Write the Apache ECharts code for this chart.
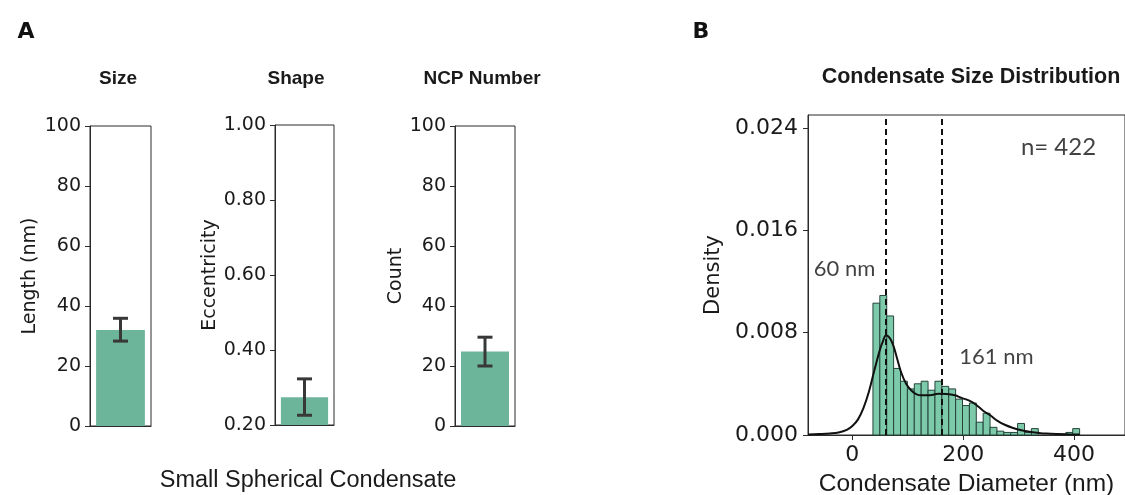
<!DOCTYPE html>
<html>
<head>
<meta charset="utf-8">
<script src="https://cdn.jsdelivr.net/npm/echarts@6/dist/echarts.min.js"></script>
<style>
  html, body { margin: 0; padding: 0; background: #fff; }
  #chart { width: 1125px; height: 495px; }
</style>
</head>
<body>
<div id="chart"></div>
<script>
// panel A: three single-bar summaries
const panelTitles = ["Size", "Shape", "NCP Number"];
const yNames = ["Length (nm)", "Eccentricity", "Count"];
const category = ["Small Spherical Condensate"];
const means = [32, 0.274, 24.8];
const errLow = [28.3, 0.226, 20.0];
const errHigh = [35.9, 0.323, 29.6];
const yMins = [0, 0.2, 0];
const yMaxs = [100, 1.0, 100];
const yIntervals = [20, 0.2, 20];
const yDecimals = [0, 2, 0];

// panel B: histogram (density) of condensate diameters
const binStart = 37.2;
const binWidth = 12.43;
const binDensity = [
  0.0103, 0.0109, 0.0093, 0.0052, 0.0042, 0.0036, 0.0040, 0.0042, 0.0035, 0.0042,
  0.0038, 0.0036, 0.0028, 0.0023, 0.0025, 0.0010, 0.0017, 0.0006, 0.0003, 0.0002,
  0.0002, 0.0009, 0.0002, 0.0005, 0, 0, 0, 0, 0.0002, 0.0005
];
const kdeX = [-80, -60, -40, -25, -10, 0, 10, 20, 30, 40, 50, 55, 61, 67, 73, 80, 88, 97, 106, 115,
  125, 140, 155, 170, 185, 197, 210, 222, 236, 250, 262, 275, 290, 305, 320, 335, 350, 370, 390, 410];
const kdeY = [0.00004, 0.00007, 0.00012, 0.0002, 0.0004, 0.0007, 0.0012, 0.0021, 0.0034, 0.0051,
  0.0067, 0.0073, 0.0078, 0.0076, 0.0071, 0.0061, 0.0049, 0.0040, 0.0035, 0.0032,
  0.0031, 0.0031, 0.00322, 0.0032, 0.0031, 0.0029, 0.0027, 0.0024, 0.0019, 0.0015,
  0.0011, 0.0008, 0.00055, 0.00037, 0.00025, 0.00017, 0.00011, 0.00007, 0.00005, 0.00004];
const modeLines = [60, 161];
const bTicksX = [0, 200, 400];
const bTicksY = [0, 0.008, 0.016, 0.024];
const notes = [
  { x: -14, y: 0.0130, text: "60 nm", size: 22 },
  { x: 260, y: 0.0061, text: "161 nm", size: 22 },
  { x: 372, y: 0.02246, text: "n= 422", size: 24 }
];

const ink = "#1a1a1a";
const spine = "#2b2b2b";
const tickFont = "DejaVu Sans";

const chart = echarts.init(document.getElementById("chart"));

const aGrids = [
  { left: 90, top: 126, width: 61, height: 300 },
  { left: 275, top: 125, width: 59, height: 300 },
  { left: 455, top: 126, width: 60, height: 300 }
];
const nameGaps = [50, 54, 48];

const grid = aGrids.map((g) => ({
  ...g, show: true, borderColor: spine, borderWidth: 1, backgroundColor: "transparent",
  containLabel: false, outerBoundsMode: "none"
}));
grid.push({
  left: 808, top: 115, right: 0, height: 320, show: true, borderColor: spine, borderWidth: 1,
  containLabel: false, outerBoundsMode: "none"
});

const xAxis = aGrids.map((g, i) => ({
  type: "category",
  gridIndex: i,
  data: category,
  axisLine: { lineStyle: { color: spine, width: 1 } },
  axisTick: { alignWithLabel: true, length: 5, lineStyle: { color: spine } },
  axisLabel: { show: false }
}));
xAxis.push({
  type: "value",
  gridIndex: 3,
  min: -80,
  max: 492,
  splitLine: { show: false },
  axisLine: { onZero: false, lineStyle: { color: spine, width: 1 } },
  axisTick: { customValues: bTicksX, length: 5, lineStyle: { color: spine } },
  axisLabel: { customValues: bTicksX, color: ink, fontFamily: tickFont, fontSize: 22, margin: 9 },
  name: "Condensate Diameter (nm)",
  nameLocation: "middle",
  nameGap: 37,
  nameTextStyle: { color: ink, fontFamily: "Liberation Sans", fontSize: 24.5 }
});

const yAxis = aGrids.map((g, i) => ({
  type: "value",
  gridIndex: i,
  min: yMins[i],
  max: yMaxs[i],
  interval: yIntervals[i],
  splitLine: { show: false },
  axisLine: { show: true, onZero: false, lineStyle: { color: spine, width: 1 } },
  axisTick: { show: true, length: 5, lineStyle: { color: spine } },
  axisLabel: {
    color: ink, fontFamily: tickFont, fontSize: 19, margin: 9,
    formatter: (v) => v.toFixed(yDecimals[i])
  },
  name: yNames[i],
  nameLocation: "middle",
  nameGap: nameGaps[i],
  nameTextStyle: { color: ink, fontFamily: tickFont, fontSize: 19 }
}));
yAxis.push({
  type: "value",
  gridIndex: 3,
  min: 0,
  max: 0.025,
  splitLine: { show: false },
  axisLine: { show: true, onZero: false, lineStyle: { color: spine, width: 1 } },
  axisTick: { show: true, customValues: bTicksY, length: 5, lineStyle: { color: spine } },
  axisLabel: {
    customValues: bTicksY, color: ink, fontFamily: tickFont, fontSize: 22, margin: 10,
    formatter: (v) => v.toFixed(3)
  },
  name: "Density",
  nameLocation: "middle",
  nameGap: 84,
  nameTextStyle: { color: ink, fontFamily: tickFont, fontSize: 21 }
});

const series = [];
aGrids.forEach((g, i) => {
  series.push({
    type: "bar",
    xAxisIndex: i,
    yAxisIndex: i,
    data: [means[i]],
    barWidth: "80%",
    itemStyle: { color: "#6cb59b" },
    silent: true
  });
  series.push({
    type: "custom",
    xAxisIndex: i,
    yAxisIndex: i,
    data: [[0, errLow[i], errHigh[i]]],
    z: 5,
    renderItem: (params, api) => {
      const hi = api.coord([api.value(0), api.value(2)]);
      const lo = api.coord([api.value(0), api.value(1)]);
      const cx = hi[0];
      const w = 7.5;
      const st = { stroke: "#383838", lineWidth: 3 };
      return {
        type: "group",
        children: [
          { type: "line", shape: { x1: cx, y1: hi[1], x2: cx, y2: lo[1] }, style: st },
          { type: "line", shape: { x1: cx - w, y1: hi[1], x2: cx + w, y2: hi[1] }, style: st },
          { type: "line", shape: { x1: cx - w, y1: lo[1], x2: cx + w, y2: lo[1] }, style: st }
        ]
      };
    }
  });
});

// histogram bars
series.push({
  type: "custom",
  xAxisIndex: 3,
  yAxisIndex: 3,
  data: binDensity.map((d, i) => [binStart + i * binWidth, binStart + (i + 1) * binWidth, d]),
  renderItem: (params, api) => {
    if (api.value(2) <= 0) return null;
    const p0 = api.coord([api.value(0), api.value(2)]);
    const p1 = api.coord([api.value(1), 0]);
    return {
      type: "rect",
      shape: { x: p0[0], y: p0[1], width: p1[0] - p0[0], height: p1[1] - p0[1] },
      style: { fill: "#7dcaab", stroke: "#24443a", lineWidth: 1 }
    };
  },
  z: 2
});

// KDE curve + dashed mode markers
series.push({
  type: "line",
  xAxisIndex: 3,
  yAxisIndex: 3,
  data: kdeX.map((x, i) => [x, kdeY[i]]),
  smooth: 0.4,
  showSymbol: false,
  lineStyle: { color: "#111", width: 2 },
  z: 4,
  markLine: {
    silent: true,
    symbol: "none",
    label: { show: false },
    lineStyle: { color: "#111", width: 2, type: [6, 4] },
    data: modeLines.map((v) => ({ xAxis: v }))
  }
});

// annotations
series.push({
  type: "scatter",
  xAxisIndex: 3,
  yAxisIndex: 3,
  symbolSize: 0,
  data: notes.map((n) => ({ value: [n.x, n.y], name: n.text, label: { fontSize: n.size } })),
  label: {
    show: true,
    position: "inside",
    formatter: (p) => p.name,
    color: "#111",
    fontFamily: "Lato"
  },
  z: 6
});

const graphic = [
  { type: "text", x: 26, y: 32, style: { text: "A", font: "bold 22px 'DejaVu Sans'", fill: "#111", align: "center", verticalAlign: "middle" } },
  { type: "text", x: 701, y: 32, style: { text: "B", font: "bold 22px 'DejaVu Sans'", fill: "#111", align: "center", verticalAlign: "middle" } },
  { type: "text", x: 308, y: 481, style: { text: "Small Spherical Condensate", font: "23.5px 'Liberation Sans'", fill: ink, align: "center", verticalAlign: "middle" } },
  { type: "text", x: 971, y: 77, style: { text: "Condensate Size Distribution", font: "bold 21.5px 'Liberation Sans'", fill: ink, align: "center", verticalAlign: "middle" } }
];
const titleX = [118, 296, 482];
panelTitles.forEach((t, i) => {
  graphic.push({ type: "text", x: titleX[i], y: 79, style: { text: t, font: "bold 19px 'Liberation Sans'", fill: ink, align: "center", verticalAlign: "middle" } });
});

chart.setOption({
  animation: false,
  backgroundColor: "#fff",
  grid,
  xAxis,
  yAxis,
  series,
  graphic
});
</script>
</body>
</html>
